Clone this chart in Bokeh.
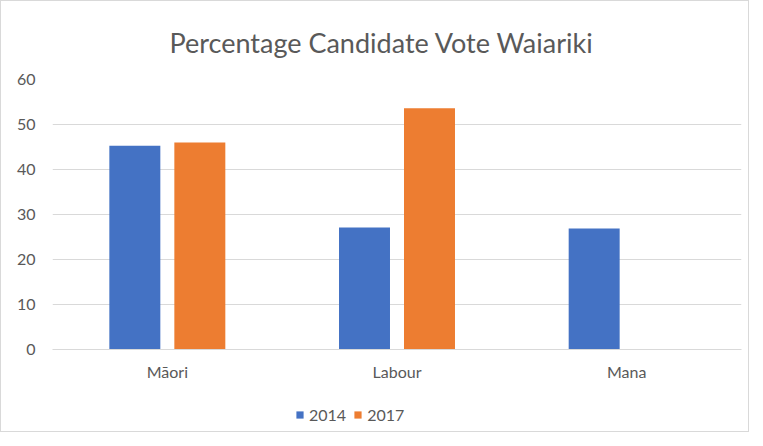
import numpy as np
from bokeh.plotting import figure
from bokeh.layouts import column
from bokeh.models import ColumnDataSource, FactorRange, Legend, LegendItem, SingleIntervalTicker
from bokeh.transform import dodge
from bokeh.embed import file_html
from bokeh.resources import INLINE

categories = ["Māori", "Labour", "Mana"]
series_names = ["2014", "2017"]
values_2014 = [45.3, 27.1, 26.9]
values_2017 = [46.0, 53.6, np.nan]
colors = ["#4472C4", "#ED7D31"]

source = ColumnDataSource(data=dict(cat=categories,
                                    v2014=np.array(values_2014, dtype=float),
                                    v2017=np.array(values_2017, dtype=float)))

FONT = "Lato"
GRAY = "#595959"

p = figure(x_range=FactorRange(factors=categories), y_range=(0, 60),
           width=747, height=395, output_backend="svg", toolbar_location=None,
           min_border_left=51, min_border_right=7, min_border_top=78, min_border_bottom=47,
           title="Percentage Candidate Vote Waiariki")

r1 = p.vbar(x=dodge("cat", -0.1415, range=p.x_range), top="v2014", width=0.222,
            source=source, fill_color=colors[0], line_color=None)
r2 = p.vbar(x=dodge("cat", 0.1415, range=p.x_range), top="v2017", width=0.222,
            source=source, fill_color=colors[1], line_color=None)

p.title.align = "left"
p.title.text_font = FONT
p.title.text_font_style = "normal"
p.title.text_font_size = "27px"
p.title.text_color = GRAY
p.title.offset = 117
p.title.standoff = 42

p.outline_line_color = None
p.xgrid.grid_line_color = None
p.ygrid.grid_line_color = "#D9D9D9"
p.ygrid.grid_line_width = 1
p.yaxis.ticker = SingleIntervalTicker(interval=10)

for ax in (p.xaxis, p.yaxis):
    ax.major_tick_line_color = None
    ax.minor_tick_line_color = None
    ax.major_label_text_font = FONT
    ax.major_label_text_color = GRAY
    ax.major_label_text_font_size = "16px"
p.yaxis.axis_line_color = None
p.xaxis.axis_line_color = "#D9D9D9"
p.yaxis.major_label_standoff = 11
p.xaxis.major_label_standoff = 6

# legend strip below the chart (its bars lie far outside its own visible range)
lg = figure(width=747, height=35, output_backend="svg", toolbar_location=None,
            min_border=0, x_range=FactorRange(factors=categories), y_range=(1000, 1001))
lg.axis.visible = False
lg.grid.visible = False
lg.outline_line_color = None
k1 = lg.vbar(x=dodge("cat", -0.1415, range=lg.x_range), top="v2014", width=0.222,
             source=source, fill_color=colors[0], line_color=None)
k2 = lg.vbar(x=dodge("cat", 0.1415, range=lg.x_range), top="v2017", width=0.222,
             source=source, fill_color=colors[1], line_color=None)

legend = Legend(items=[LegendItem(label=series_names[0], renderers=[k1]),
                       LegendItem(label=series_names[1], renderers=[k2])],
                orientation="horizontal", location=(243, 7),
                label_text_font=FONT, label_text_font_size="16px", label_text_color=GRAY,
                glyph_width=9, glyph_height=9, spacing=7, label_standoff=5,
                border_line_color=None, background_fill_alpha=0, margin=0, padding=4)
lg.add_layout(legend, "center")

layout = column(p, lg, spacing=0)
layout.styles = {"border": "1px solid #d9d9d9", "box-sizing": "border-box"}

open("out.html", "w").write(file_html(layout, INLINE))
